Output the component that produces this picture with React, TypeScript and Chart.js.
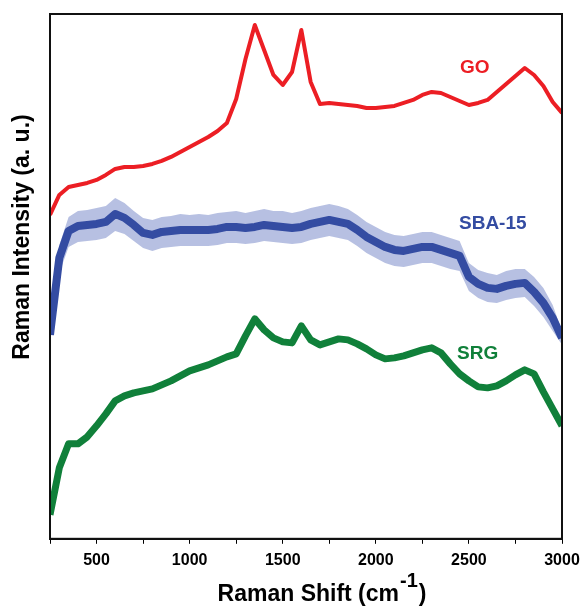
import React, { useEffect, useRef } from "react";
import { Chart, registerables } from "chart.js";

Chart.register(...registerables);

const ramanShift = [
  250, 300, 350, 400, 450, 500, 550, 600, 650, 700, 750, 800, 850, 900, 950, 1000,
  1050, 1100, 1150, 1200, 1250, 1300, 1350, 1400, 1450, 1500, 1550, 1600, 1650, 1700,
  1750, 1800, 1850, 1900, 1950, 2000, 2050, 2100, 2150, 2200, 2250, 2300, 2350, 2400,
  2450, 2500, 2550, 2600, 2650, 2700, 2750, 2800, 2850, 2900, 2950, 3000,
];

const goIntensity = [
  324, 344, 352, 354, 356, 359, 364, 370, 372, 372, 373, 375, 378, 382, 387, 392,
  397, 402, 408, 416, 440, 480, 514, 489, 464, 454, 467, 509, 457, 435,
  436, 435, 434, 433, 431, 431, 432, 433, 436, 439, 444, 447, 446, 442,
  438, 434, 436, 439, 447, 455, 463, 471, 464, 453, 437, 426,
];

const sbaIntensity = [
  204, 281, 308, 313, 314, 315, 317, 325, 321, 314, 306, 304, 307, 308, 309, 309,
  309, 309, 310, 312, 312, 311, 312, 314, 313, 312, 311, 312, 315, 317,
  319, 317, 315, 309, 302, 297, 292, 289, 288, 290, 292, 292, 289, 286,
  283, 262, 255, 251, 250, 253, 255, 256, 247, 236, 221, 201,
];

const sbaUpper = [
  210, 294, 322, 328, 329, 331, 333, 341, 336, 328, 321, 319, 322, 323, 325, 324,
  325, 324, 326, 327, 328, 326, 328, 330, 328, 328, 326, 328, 331, 333,
  335, 333, 330, 324, 317, 312, 307, 304, 303, 305, 307, 307, 304, 301,
  298, 276, 269, 266, 264, 268, 270, 270, 262, 251, 234, 208,
];

const sbaLower = [
  196, 266, 292, 297, 298, 299, 301, 308, 305, 298, 291, 288, 291, 292, 293, 293,
  293, 293, 294, 296, 296, 295, 296, 298, 297, 296, 295, 296, 299, 301,
  303, 301, 299, 293, 286, 281, 276, 273, 272, 274, 276, 276, 273, 270,
  268, 248, 241, 237, 236, 239, 241, 242, 233, 222, 208, 194,
];

const srgIntensity = [
  24, 71, 95, 95, 102, 113, 125, 138, 143, 146, 148, 150, 154, 158, 163, 168,
  171, 174, 178, 182, 185, 203, 220, 209, 201, 197, 196, 213, 199, 194,
  197, 200, 199, 195, 190, 184, 180, 181, 183, 186, 189, 191, 186, 175,
  165, 158, 152, 151, 153, 158, 164, 169, 165, 147, 130, 113,
];

const xLabelStep = 500;
const seriesNames = ["GO", "SBA-15", "SRG"];

const FONT = "'Liberation Sans', Arial, Helvetica, sans-serif";
const RED = "rgb(236,30,36)";
const BLUE = "rgb(52,76,162)";
const BLUE_LIGHT = "rgba(95,115,190,0.45)";
const GREEN = "rgb(16,128,58)";

const pts = (arr: number[]) => ramanShift.map((x, i) => ({ x, y: arr[i] }));

const decor = {
  id: "decor",
  afterDraw(chart: any) {
    const { ctx, chartArea } = chart;
    const { left, top, right, bottom } = chartArea;
    ctx.save();
    ctx.strokeStyle = "#111";
    ctx.lineWidth = 2;
    ctx.strokeRect(left, top, right - left, bottom - top);

    ctx.font = `bold 19px ${FONT}`;
    ctx.textBaseline = "middle";
    ctx.textAlign = "left";
    ctx.fillStyle = RED;
    ctx.fillText(seriesNames[0], 460, 68);
    ctx.fillStyle = BLUE;
    ctx.fillText(seriesNames[1], 459, 224);
    ctx.fillStyle = GREEN;
    ctx.fillText(seriesNames[2], 457, 354);

    ctx.fillStyle = "#000";
    ctx.save();
    ctx.translate(23, 237);
    ctx.rotate(-Math.PI / 2);
    ctx.textAlign = "center";
    ctx.textBaseline = "middle";
    ctx.font = `bold 23px ${FONT}`;
    ctx.fillText("Raman Intensity (a. u.)", 0, 0);
    ctx.restore();

    const main = "Raman Shift (cm";
    const sup = "-1";
    const close = ")";
    ctx.textBaseline = "alphabetic";
    ctx.textAlign = "left";
    ctx.font = `bold 23px ${FONT}`;
    const w1 = ctx.measureText(main).width;
    const w3 = ctx.measureText(close).width;
    ctx.font = `bold 20px ${FONT}`;
    const w2 = ctx.measureText(sup).width;
    const total = w1 + w2 + w3 + 2;
    let x = 322 - total / 2;
    ctx.font = `bold 23px ${FONT}`;
    ctx.fillText(main, x, 601);
    x += w1 + 1;
    ctx.font = `bold 20px ${FONT}`;
    ctx.fillText(sup, x, 587);
    x += w2 + 1;
    ctx.font = `bold 23px ${FONT}`;
    ctx.fillText(close, x, 601);
    ctx.restore();
  },
};

export default function App() {
  const ref = useRef<HTMLCanvasElement | null>(null);
  useEffect(() => {
    if (!ref.current) return;
    Chart.defaults.font.family = FONT;
    const chart = new Chart(ref.current, {
      type: "line",
      data: {
        datasets: [
          {
            label: "GO",
            data: pts(goIntensity),
            borderColor: RED,
            borderWidth: 4,
            pointRadius: 0,
            fill: false,
            borderJoinStyle: "round",
            order: 1,
          },
          {
            label: "SBA-15",
            data: pts(sbaIntensity),
            borderColor: BLUE,
            borderWidth: 8,
            pointRadius: 0,
            fill: false,
            borderJoinStyle: "round",
            order: 2,
          },
          {
            label: "SBA-15 lower",
            data: pts(sbaLower),
            borderColor: "rgba(0,0,0,0)",
            borderWidth: 0,
            pointRadius: 0,
            fill: false,
            order: 4,
          },
          {
            label: "SBA-15 upper",
            data: pts(sbaUpper),
            borderColor: "rgba(0,0,0,0)",
            backgroundColor: BLUE_LIGHT,
            borderWidth: 0,
            pointRadius: 0,
            fill: "-1",
            order: 3,
          },
          {
            label: "SRG",
            data: pts(srgIntensity),
            borderColor: GREEN,
            borderWidth: 7,
            pointRadius: 0,
            fill: false,
            borderJoinStyle: "round",
            order: 5,
          },
        ],
      },
      options: {
        animation: false,
        responsive: false,
        maintainAspectRatio: false,
        layout: { padding: { left: 50, top: 14, right: 22, bottom: 29 } },
        plugins: {
          legend: { display: false },
          tooltip: { enabled: false },
        },
        scales: {
          x: {
            type: "linear",
            min: 250,
            max: 3000,
            afterFit: (scale: any) => {
              scale.paddingLeft = 0;
              scale.paddingRight = 0;
            },
            ticks: {
              stepSize: 250,
              color: "#000",
              font: { size: 16, weight: "bold" },
              padding: 7,
              maxRotation: 0,
              autoSkip: false,
              callback: (v: any) => (Number(v) % xLabelStep === 0 ? String(v) : ""),
            },
            grid: {
              display: true,
              drawOnChartArea: false,
              drawTicks: true,
              tickLength: 5,
              color: "#000",
              lineWidth: 1,
            },
            border: { display: true, color: "#111", width: 2 },
          },
          y: {
            type: "linear",
            min: 0,
            max: 525,
            ticks: { display: false },
            grid: { display: false, drawTicks: false },
            border: { display: true, color: "#111", width: 2 },
          },
        },
      },
      plugins: [decor],
    });
    return () => chart.destroy();
  }, []);
  return (
    <div style={{ position: "fixed", left: 0, top: 0, width: 584, height: 606, background: "#fff" }}>
      <canvas ref={ref} width={584} height={606} style={{ width: 584, height: 606, display: "block" }} />
    </div>
  );
}
